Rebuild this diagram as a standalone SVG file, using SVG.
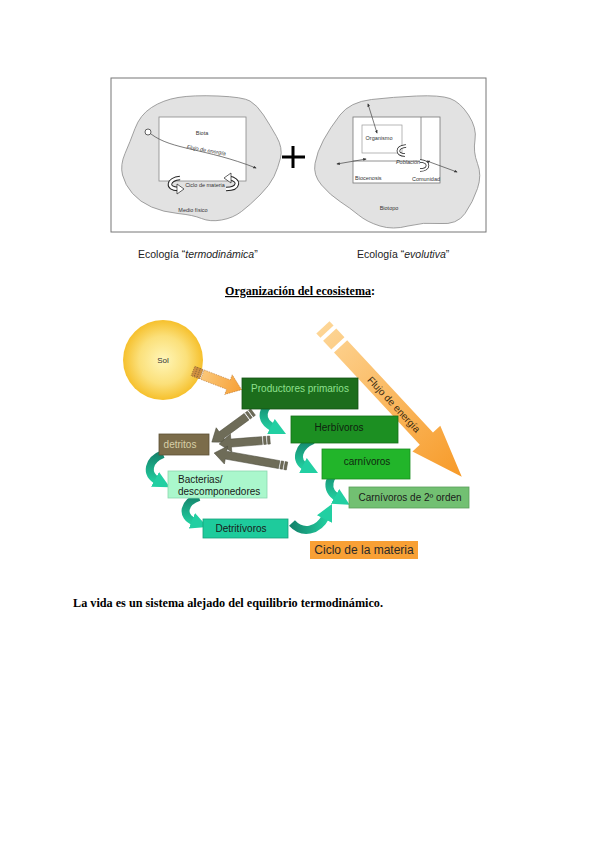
<svg xmlns="http://www.w3.org/2000/svg" width="600" height="848" viewBox="0 0 600 848">
<defs>
<style>
.sans{font-family:"Liberation Sans",Arial,sans-serif}
.serif{font-family:"Liberation Serif","Times New Roman",serif}
.tiny{font-family:"Liberation Sans",Arial,sans-serif;font-size:5.5px;fill:#333}
.blob{fill:#e2e2e2;stroke:#8a8a8a;stroke-width:0.8}
.thin{fill:none;stroke:#444;stroke-width:0.7}
.box{stroke-width:0.8}
.lbl{font-family:"Liberation Sans",Arial,sans-serif;font-size:10px}
.gray{fill:#6e6c58;stroke:#4a4a3a;stroke-width:0.5}
.teal{fill:none;stroke:url(#tealV);stroke-width:8}
</style>
<radialGradient id="sun" cx="0.5" cy="0.5" r="0.5">
<stop offset="0" stop-color="#fff6b8"/>
<stop offset="0.6" stop-color="#fbe07a"/>
<stop offset="1" stop-color="#f6c02c"/>
</radialGradient>
<linearGradient id="enerG" gradientUnits="userSpaceOnUse" x1="-30" y1="0" x2="173" y2="0">
<stop offset="0" stop-color="#fdd595"/>
<stop offset="1" stop-color="#f79a28"/>
</linearGradient>
<linearGradient id="sunArrG" gradientUnits="userSpaceOnUse" x1="0" y1="0" x2="52" y2="0">
<stop offset="0" stop-color="#fbd089"/>
<stop offset="1" stop-color="#f7a035"/>
</linearGradient>
<linearGradient id="tealV" x1="0" y1="0" x2="0" y2="1">
<stop offset="0" stop-color="#14846c"/>
<stop offset="1" stop-color="#22cc9e"/>
</linearGradient>
<linearGradient id="tealH" x1="0" y1="0" x2="1" y2="0">
<stop offset="0" stop-color="#14846c"/>
<stop offset="1" stop-color="#22cc9e"/>
</linearGradient>
<marker id="tealHead" viewBox="0 0 10 10" refX="2" refY="5" markerWidth="2.1" markerHeight="2.5" orient="auto">
<path d="M0,0 L10,5 L0,10 z" fill="#22cfa2"/>
</marker>
<marker id="smallHead" viewBox="0 0 10 10" refX="8" refY="5" markerWidth="5" markerHeight="5" orient="auto-start-reverse">
<path d="M0,1 L10,5 L0,9 z" fill="#333"/>
</marker>
</defs>

<!-- Top figure -->
<g id="top-figure">
<rect x="111" y="78" width="375" height="154" fill="#fff" stroke="#777" stroke-width="1"/>
<g id="termo">
<path class="blob" d="M135,128.5 Q140,115 151.5,107.5 Q163,100 178,97.5 Q193,95 218,96 Q243,97 250,101 Q257,105 263.5,115 Q270,125 276.5,136.5 Q283,148 280.5,158 Q278,168 274,176.5 Q270,185 260,195 Q250,205 241.5,211.5 Q233,218 221.5,220 Q210,222 201.5,218.5 Q193,215 178,213.5 Q163,212 151.5,207 Q140,202 132.5,193.5 Q125,185 122.5,175 Q120,165 125,153.5 Q130,142 135,128.5 Z"/>
<rect x="159" y="117" width="87" height="64" fill="#fff" stroke="#888" stroke-width="0.8"/>
<text class="tiny" x="202" y="135" text-anchor="middle">Biota</text>
<circle cx="148" cy="132" r="3" fill="#fff" stroke="#222" stroke-width="0.7"/>
<path class="thin" d="M151,134 C172,150 205,148 256,168" marker-end="url(#smallHead)"/>
<text class="tiny" x="206" y="152" text-anchor="middle" font-style="italic" font-size="6" transform="rotate(10 206 152)">Flujo de energía</text>
<path d="M180,178 C168,179 166,189 178,189" fill="none" stroke="#222" stroke-width="4.5"/>
<path d="M180,178 C168,179 166,189 178,189" fill="none" stroke="#fff" stroke-width="2.6"/>
<polygon points="177,184 184,189 177,194" fill="#fff" stroke="#222" stroke-width="0.7"/>
<path d="M226,189 C240,189 240,179 229,178" fill="none" stroke="#222" stroke-width="4.5"/>
<path d="M226,189 C240,189 240,179 229,178" fill="none" stroke="#fff" stroke-width="2.6"/>
<polygon points="231,173 224,178 231,183" fill="#fff" stroke="#222" stroke-width="0.7"/>
<text class="tiny" x="205" y="187" text-anchor="middle" font-size="4.8">Ciclo de materia</text>
<text class="tiny" x="193" y="212" text-anchor="middle">Medio físico</text>
</g>
<path d="M293,146 V168 M282,157 H305" stroke="#000" stroke-width="3"/>
<g id="evol">
<path class="blob" d="M340,115 Q350,102 371.5,99.5 Q393,97 416.5,96 Q440,95 450,98.5 Q460,102 468.5,115 Q477,128 475,140 Q473,152 477.5,163.5 Q482,175 477.5,188.5 Q473,202 465,213.5 Q457,225 440,223.5 Q423,222 408,226 Q393,230 380,226 Q367,222 358.5,215 Q350,208 340,201.5 Q330,195 321.5,185 Q313,175 315,163.5 Q317,152 323.5,140 Q330,128 340,115 Z"/>
<rect x="353" y="117" width="87" height="66" fill="#fff" stroke="#777" stroke-width="0.8"/>
<path d="M353,161 H421 V117" fill="none" stroke="#777" stroke-width="0.8"/>
<rect x="362" y="125" width="40" height="28" fill="#fff" stroke="#999" stroke-width="0.7"/>
<text class="tiny" x="379" y="140" text-anchor="middle" font-size="4.8">Organismo</text>
<path d="M406,146 C396,147 396,155 405,155" fill="none" stroke="#222" stroke-width="3.5"/>
<path d="M406,146 C396,147 396,155 405,155" fill="none" stroke="#fff" stroke-width="2"/>
<path d="M420,161 C430,161 430,170 420,170" fill="none" stroke="#222" stroke-width="3.5"/>
<path d="M420,161 C430,161 430,170 420,170" fill="none" stroke="#fff" stroke-width="2"/>
<text class="tiny" x="408" y="164" text-anchor="middle" font-size="4.8" font-style="italic">Población</text>
<text class="tiny" x="355" y="180" font-size="5">Biocenosis</text>
<text class="tiny" x="426" y="181" text-anchor="middle" font-size="4.8">Comunidad</text>
<text class="tiny" x="389" y="210" text-anchor="middle" font-size="4.8">Biotopo</text>
<path class="thin" d="M377,133 L368,104" marker-start="url(#smallHead)" marker-end="url(#smallHead)"/>
<path class="thin" d="M366,159 L337,164" marker-start="url(#smallHead)" marker-end="url(#smallHead)"/>
<path class="thin" d="M427,161 L457,172" marker-start="url(#smallHead)" marker-end="url(#smallHead)"/>
</g>
</g>
<text class="sans" x="138" y="258" font-size="10.5" fill="#222">Ecología “<tspan font-style="italic">termodinámica</tspan>”</text>
<text class="sans" x="357" y="258" font-size="10.5" fill="#222">Ecología “<tspan font-style="italic">evolutiva</tspan>”</text>

<text class="serif" x="225" y="295" font-size="12" font-weight="bold" textLength="150" lengthAdjust="spacingAndGlyphs"><tspan text-decoration="underline">Organización del ecosistema</tspan>:</text>

<!-- Energy flow arrow -->
<g id="flujo-energia" transform="translate(344,350) rotate(47.1)">
<rect x="-31" y="-9" width="6" height="18" fill="url(#enerG)"/>
<rect x="-21" y="-9" width="12" height="18" fill="url(#enerG)"/>
<polygon points="-5,-9 121,-9 121,-19 173,0 121,19 121,9 -5,9" fill="url(#enerG)"/>
<text class="sans" x="74" y="4" font-size="10" text-anchor="middle" fill="#3a2a10">Flujo de energía</text>
</g>

<!-- Sun -->
<g id="sol">
<circle cx="163" cy="360" r="40" fill="url(#sun)"/>
<text class="sans" x="163" y="363" font-size="8" text-anchor="middle" fill="#333">Sol</text>
</g>

<!-- connectors -->
<g id="connectors">
<g transform="translate(193,371) rotate(21)">
<rect x="0" y="-5" width="9" height="10" fill="#d09040" stroke="#7a5a30" stroke-width="0.6" stroke-dasharray="1,1"/>
<path d="M3,-5 V5 M6,-5 V5" stroke="#7a5a30" stroke-width="0.8" stroke-dasharray="1,1"/>
<polygon points="10,-5 38,-5 38,-10.5 52,0 38,10.5 38,5 10,5" fill="url(#sunArrG)" stroke="#b07030" stroke-width="0.5" stroke-dasharray="1.5,1"/>
</g>
<g transform="translate(253,412) rotate(143.8)">
<rect class="gray" x="0" y="-4" width="2.5" height="8"/>
<rect class="gray" x="4" y="-4" width="2.5" height="8"/>
<polygon class="gray" points="8,-4 39,-4 39,-9 51,0 39,9 39,4 8,4"/>
</g>
<g transform="translate(270,440) rotate(175.5)">
<rect class="gray" x="0" y="-4" width="2.5" height="8"/>
<rect class="gray" x="4" y="-4" width="2.5" height="8"/>
<polygon class="gray" points="8,-4 39,-4 39,-9 51,0 39,9 39,4 8,4"/>
</g>
<g transform="translate(287,466) rotate(190.1)">
<rect class="gray" x="0" y="-4" width="2.5" height="8"/>
<rect class="gray" x="4" y="-4" width="2.5" height="8"/>
<polygon class="gray" points="8,-4 62,-4 62,-9 74,0 62,9 62,4 8,4"/>
</g>
<path class="teal" d="M276,401 C262,406 258,420 274,428" marker-end="url(#tealHead)"/>
<path class="teal" d="M313,440 C298,446 294,461 306,467" marker-end="url(#tealHead)"/>
<path class="teal" d="M343,469 C328,474 324,490 338,498" marker-end="url(#tealHead)"/>
<path class="teal" d="M163,454 C148,460 145,474 158,481" marker-end="url(#tealHead)"/>
<path class="teal" d="M199,497 C184,502 180,516 195,522" marker-end="url(#tealHead)"/>
<path d="M292,523 C302,534 318,532 326,516" fill="none" stroke="url(#tealH)" stroke-width="8" marker-end="url(#tealHead)"/>
</g>

<!-- Nodes -->
<g id="productores">
<rect class="box" x="242" y="378" width="116" height="31" fill="#1c6d1c" stroke="#145214"/>
<text class="lbl" x="300" y="392" text-anchor="middle" fill="#8ee08e">Productores primarios</text>
</g>
<g id="herbivoros">
<rect class="box" x="291" y="416" width="107" height="27" fill="#1c8f22" stroke="#156e18"/>
<text class="lbl" x="339" y="431" text-anchor="middle" fill="#0f1f0f">Herbívoros</text>
</g>
<g id="carnivoros">
<rect class="box" x="322" y="449" width="88" height="30" fill="#22b52a" stroke="#1a8c20"/>
<text class="lbl" x="367" y="465" text-anchor="middle" fill="#0f2a0f">carnívoros</text>
</g>
<g id="carnivoros2">
<rect class="box" x="349" y="487" width="120" height="21" fill="#72c072" stroke="#5a9e5a"/>
<text class="lbl" x="410" y="501" text-anchor="middle" fill="#1a1a1a">Carnívoros de 2º orden</text>
</g>
<g id="detritos">
<rect class="box" x="159" y="434" width="50" height="21" fill="#7b6c4a" stroke="#5e5236"/>
<text class="lbl" x="180" y="448" text-anchor="middle" fill="#d8d0a8">detritos</text>
</g>
<g id="bacterias">
<rect class="box" x="168" y="471" width="99" height="27" fill="#aaf7cc" stroke="#8ad8ae"/>
<text class="lbl" x="178" y="483" fill="#1a1a1a">Bacterias/</text>
<text class="lbl" x="178" y="495" fill="#1a1a1a">descomponedores</text>
</g>
<g id="detritivoros">
<rect class="box" x="203" y="519" width="85" height="19" fill="#1ecb9c" stroke="#16a07a"/>
<text class="lbl" x="241" y="532" text-anchor="middle" fill="#1a1a1a">Detritívoros</text>
</g>
<g id="ciclo">
<rect x="310" y="541" width="108" height="18" fill="#f8a035"/>
<text class="sans" x="364" y="554" font-size="12" text-anchor="middle" fill="#2a2a2a">Ciclo de la materia</text>
</g>

<text class="serif" x="73" y="607" font-size="12" font-weight="bold" textLength="310" lengthAdjust="spacingAndGlyphs">La vida es un sistema alejado del equilibrio termodinámico.</text>
</svg>
